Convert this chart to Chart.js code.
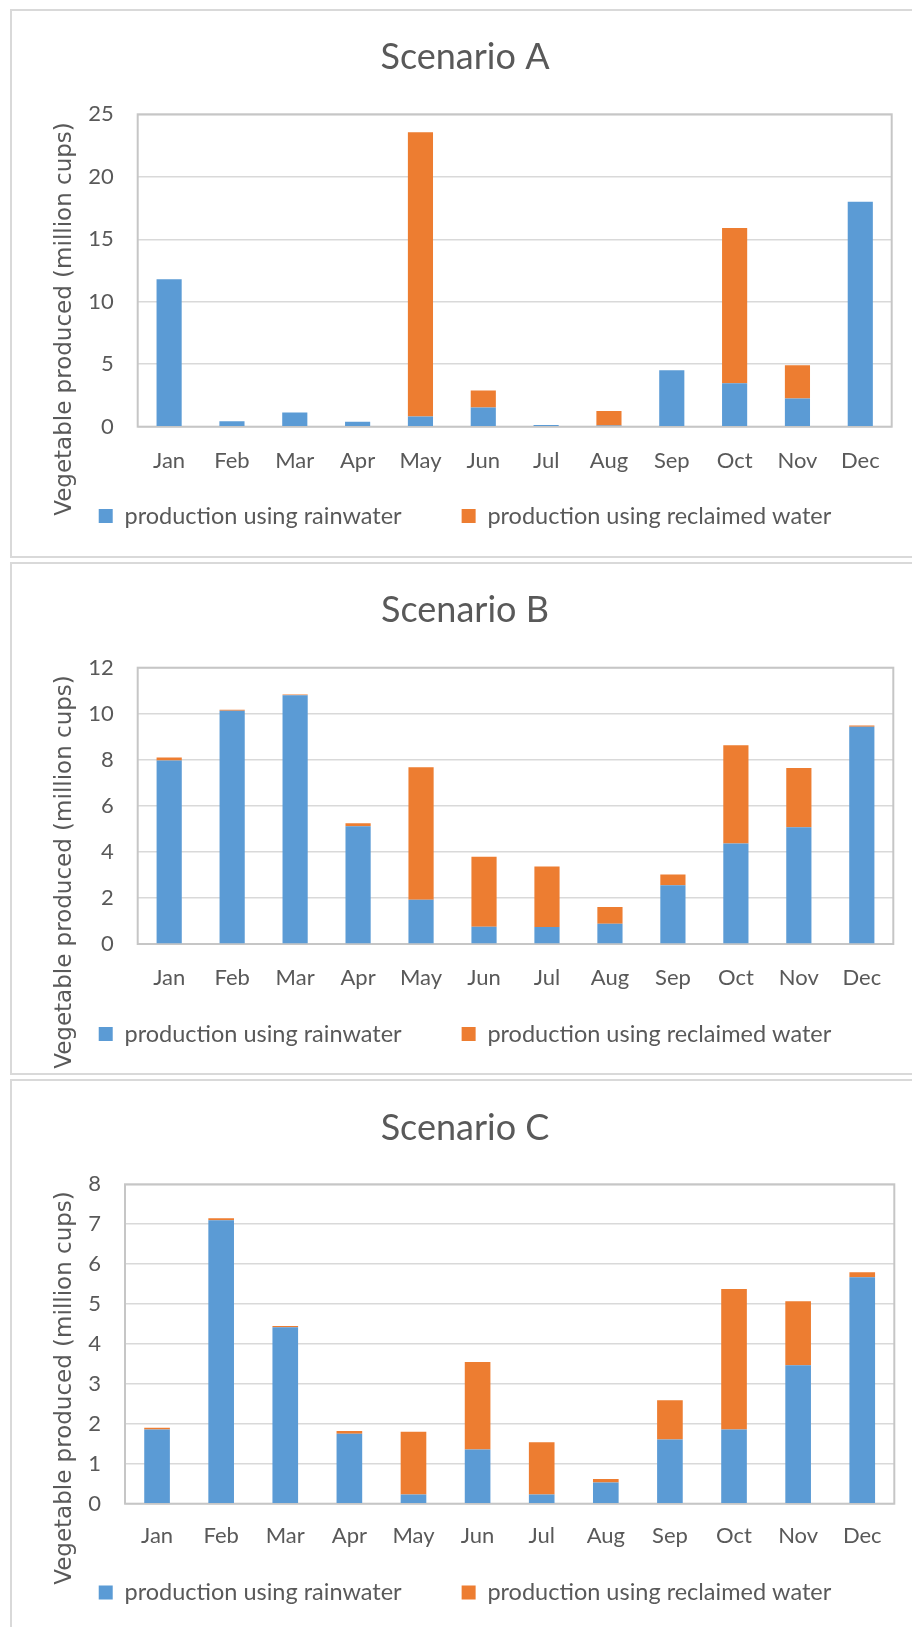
<!DOCTYPE html>
<html>
<head>
<meta charset="utf-8">
<script src="https://cdn.jsdelivr.net/npm/chart.js@4.4.1/dist/chart.umd.min.js"></script>
<style>
html,body{margin:0;padding:0;background:#fff;overflow:hidden;}
body{width:912px;height:1627px;position:relative;}
.panel{position:absolute;left:10px;width:940px;border:2px solid #d9d9d9;box-sizing:border-box;}
canvas{position:absolute;left:11px;}
</style>
</head>
<body>
<div class="panel" style="top:9px;height:549px"></div>
<div class="panel" style="top:562px;height:513px"></div>
<div class="panel" style="top:1079px;height:600px"></div>
<canvas id="chartA" width="908" height="546" style="top:10px"></canvas>
<canvas id="chartB" width="908" height="512" style="top:562px"></canvas>
<canvas id="chartC" width="908" height="547" style="top:1080px"></canvas>
<script>
const months = ['Jan','Feb','Mar','Apr','May','Jun','Jul','Aug','Sep','Oct','Nov','Dec'];
const seriesNames = ['production using rainwater','production using reclaimed water'];
const yTitle = 'Vegetable produced (million cups)';

// Scenario A
const rainA = [11.8,0.43,1.14,0.4,0.82,1.54,0.13,0.1,4.52,3.48,2.26,18.0];
const reclaimedA = [0,0,0,0,22.75,1.36,0,1.15,0,12.42,2.66,0];
// Scenario B
const rainB = [7.97,10.13,10.8,5.11,1.92,0.75,0.74,0.88,2.55,4.37,5.07,9.44];
const reclaimedB = [0.13,0.04,0.04,0.13,5.76,3.04,2.63,0.73,0.47,4.26,2.57,0.05];
// Scenario C
const rainC = [1.86,7.10,4.42,1.75,0.23,1.36,0.23,0.53,1.61,1.86,3.47,5.67];
const reclaimedC = [0.04,0.05,0.03,0.07,1.57,2.19,1.31,0.09,0.98,3.52,1.60,0.13];

const fontFamily = 'Lato, "Open Sans", sans-serif';
const textColor = '#595959';
const legendFont = 23.5;
const legendGap = 60;

// frame round the plot area
const frame = {
  id:'frame',
  beforeDatasetsDraw(chart){
    const a = chart.chartArea, ctx = chart.ctx;
    ctx.save();
    ctx.strokeStyle = '#c6c6c6';
    ctx.lineWidth = 2;
    ctx.strokeRect(a.left, a.top, a.right-a.left, a.bottom-a.top);
    ctx.restore();
  }
};

// legend sits closer to the axis than chart.js would put it
const legendPlace = {
  id:'legendPlace',
  afterLayout(chart, args, opts){
    const lg = chart.legend;
    lg.top = opts.centre - legendGap - legendFont/2;
    lg.bottom = lg.top + legendFont + legendGap + 12;
  }
};

// vertical axis title, centred like Excel does it
const axisTitle = {
  id:'axisTitle',
  afterDraw(chart, args, opts){
    const ctx = chart.ctx;
    ctx.save();
    ctx.translate(opts.x, opts.y);
    ctx.rotate(-Math.PI/2);
    ctx.font = '23px "DejaVu Sans", sans-serif';
    ctx.fillStyle = textColor;
    ctx.textAlign = 'center';
    ctx.textBaseline = 'middle';
    ctx.fillText(yTitle, 0, 0);
    ctx.restore();
  }
};

function drawScenario(id, title, rain, reclaimed, yMax, yStep, box){
  new Chart(document.getElementById(id), {
    type:'bar',
    data:{
      labels:months,
      datasets:[
        {label:seriesNames[0], data:rain, backgroundColor:'#5b9bd5', barPercentage:0.4, categoryPercentage:1},
        {label:seriesNames[1], data:reclaimed, backgroundColor:'#ed7d31', barPercentage:0.4, categoryPercentage:1}
      ]
    },
    options:{
      responsive:false,
      animation:false,
      devicePixelRatio:1,
      layout:{padding:{left:0, right:0, top:0, bottom:box.padB}},
      plugins:{
        title:{display:true, text:title, color:textColor,
          font:{family:fontFamily, size:36, weight:'normal', lineHeight:1.2},
          padding:{top:box.titleTop, bottom:box.titleBottom}},
        legend:{position:'bottom', maxHeight:40,
          labels:{boxWidth:14, boxHeight:14, padding:legendGap, color:textColor,
            font:{family:fontFamily, size:legendFont}}},
        tooltip:{enabled:false},
        axisTitle:{x:box.axisX, y:box.axisY},
        legendPlace:{centre:box.legendY}
      },
      scales:{
        x:{stacked:true,
          grid:{display:false, drawTicks:false},
          border:{display:false},
          ticks:{color:textColor, font:{family:fontFamily, size:22}, padding:box.xPad},
          afterFit(s){ s.height = 50; }},
        y:{stacked:true, min:0, max:yMax,
          grid:{color:'#d9d9d9', lineWidth:1.5, drawTicks:false},
          border:{display:false},
          ticks:{stepSize:yStep, color:textColor, font:{family:fontFamily, size:22}, padding:24},
          afterFit(s){ s.width = box.left; }},
        // empty right-hand strip, keeps the plot off the panel edge
        yRight:{position:'right', display:true,
          grid:{display:false, drawTicks:false},
          border:{display:false},
          ticks:{display:false},
          afterFit(s){ s.width = 908 - box.right; }}
      }
    },
    plugins:[frame, axisTitle, legendPlace]
  });
}

drawScenario('chartA','Scenario A',rainA,reclaimedA,25,5,
  {left:126.7, right:880.7, padB:39.3, xPad:21.1, titleTop:25.4, titleBottom:35.7, axisX:53.6, axisY:309, legendY:506});
drawScenario('chartB','Scenario B',rainB,reclaimedB,12,2,
  {left:126.7, right:882.3, padB:40, xPad:20.3, titleTop:26.4, titleBottom:36.1, axisX:53.6, axisY:310, legendY:472});
drawScenario('chartC','Scenario C',rainC,reclaimedC,8,1,
  {left:114, right:883.3, padB:33.3, xPad:19.1, titleTop:26.4, titleBottom:34.7, axisX:53.6, axisY:308, legendY:512.6});
</script>
</body>
</html>
